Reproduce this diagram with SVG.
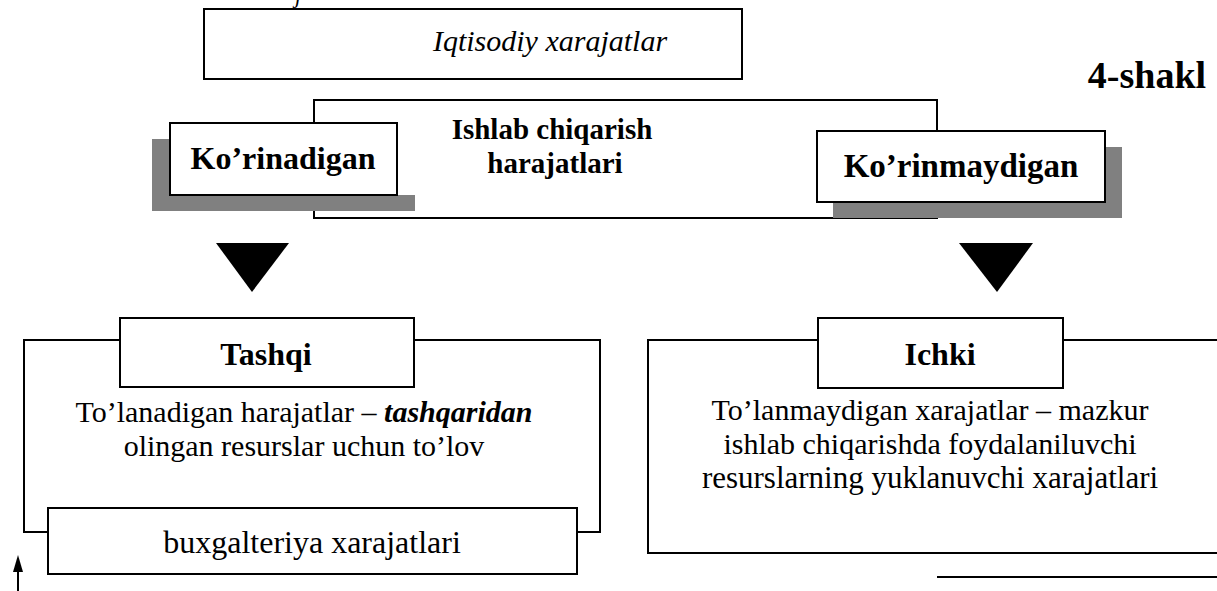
<svg xmlns="http://www.w3.org/2000/svg" width="1217" height="591" viewBox="0 0 1217 591">
<style>
.box{fill:#fff;stroke:#000;stroke-width:2}
.ln{fill:none;stroke:#000;stroke-width:2}
.sh{fill:#808080}
.t{font-family:"Liberation Serif","Times New Roman",serif;fill:#000;text-anchor:middle}
.b{font-weight:bold}
.i{font-style:italic}
</style>
<rect width="1217" height="591" fill="#fff"/>
<text x="298" y="3" class="t i" font-size="22">j</text>
<g id="top-box">
<rect class="box" x="204" y="9" width="538" height="70"/>
<text class="t i" x="550" y="51" font-size="30">Iqtisodiy xarajatlar</text>
</g>
<g id="shakl-label">
<text class="t b" x="1147" y="88" font-size="38">4-shakl</text>
</g>
<g id="ishlab-box">
<rect class="box" x="314" y="100" width="623" height="118"/>
<text class="t b" x="552" y="139" font-size="29">Ishlab chiqarish</text>
<text class="t b" x="555" y="173" font-size="29">harajatlari</text>
</g>
<g id="korinadigan">
<path class="sh" d="M152,139 H170 V195 H415 V211 H152 Z"/>
<rect class="box" x="170" y="123" width="227" height="72"/>
<text class="t b" x="283" y="169" font-size="32">Ko’rinadigan</text>
</g>
<g id="korinmaydigan">
<rect class="sh" x="833" y="147" width="289" height="71"/>
<rect class="box" x="817" y="131" width="288" height="71"/>
<text class="t b" x="961" y="177" font-size="33">Ko’rinmaydigan</text>
</g>
<g id="connectors">
<polygon points="216,243 289,243 252,292" fill="#000"/>
<polygon points="959,243 1033,243 997,292" fill="#000"/>
<line class="ln" x1="18" y1="591" x2="18" y2="570"/>
<polygon points="18,555 13,572 23,572" fill="#000"/>
</g>
<g id="tashqi-panel">
<path class="ln" d="M120,340 H24 V532 H48 M414,340 H600 V532 H577"/>
<rect class="box" x="120" y="318" width="294" height="69"/>
<text class="t b" x="266" y="365" font-size="32">Tashqi</text>
<text class="t" x="304" y="422" font-size="30">To’lanadigan harajatlar – <tspan class="b i">tashqaridan</tspan></text>
<text class="t" x="304" y="456" font-size="30">olingan resurslar uchun to’lov</text>
<rect class="box" x="48" y="508" width="529" height="66"/>
<text class="t" x="312" y="553" font-size="32">buxgalteriya xarajatlari</text>
</g>
<g id="ichki-panel">
<path class="ln" d="M818,340 H648 V553 H1217 M1063,340 H1217"/>
<rect class="box" x="818" y="318" width="245" height="70"/>
<text class="t b" x="940" y="365" font-size="32">Ichki</text>
<text class="t" x="930" y="420" font-size="30">To’lanmaydigan xarajatlar – mazkur</text>
<text class="t" x="930" y="454" font-size="30">ishlab chiqarishda foydalaniluvchi</text>
<text class="t" x="930" y="488" font-size="31">resurslarning yuklanuvchi xarajatlari</text>
<line class="ln" x1="937" y1="577" x2="1217" y2="577"/>
</g>
</svg>
